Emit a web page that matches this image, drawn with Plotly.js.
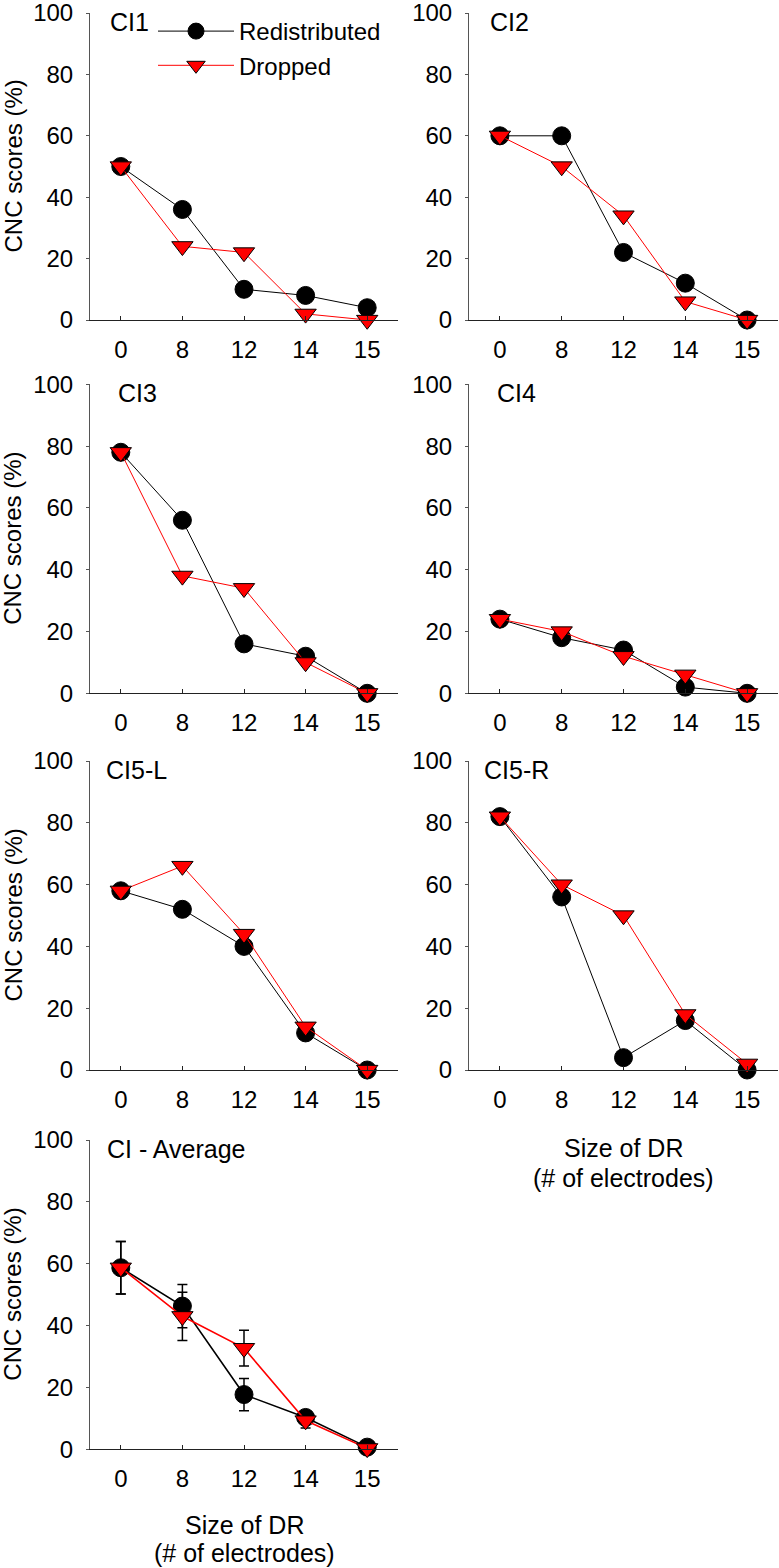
<!DOCTYPE html>
<html><head><meta charset="utf-8">
<script src="https://cdn.plot.ly/plotly-3.0.1.min.js"></script>
<style>html,body{margin:0;padding:0;background:#fff}</style>
</head><body><div id="chart" style="width:779px;height:1568px"></div>
<script>
// ---- data ----
const categories = ['0', '8', '12', '14', '15'];
const panelNames = ['CI1', 'CI2', 'CI3', 'CI4', 'CI5-L', 'CI5-R', 'CI - Average'];
const seriesNames = ['Redistributed', 'Dropped'];
const yTickVals = [0, 20, 40, 60, 80, 100];

const ci1Redistributed = [50, 36, 10, 8, 4];
const ci1Dropped       = [50, 24, 22, 2, 0];
const ci2Redistributed = [60, 60, 22, 12, 0];
const ci2Dropped       = [60, 50, 34, 6, 0];
const ci3Redistributed = [78, 56, 16, 12, 0];
const ci3Dropped       = [78, 38, 34, 10, 0];
const ci4Redistributed = [24, 18, 14, 2, 0];
const ci4Dropped       = [24, 20, 12, 6, 0];
const ci5LRedistributed = [58, 52, 40, 12, 0];
const ci5LDropped       = [58, 66, 44, 14, 0];
const ci5RRedistributed = [82, 56, 4, 16, 0];
const ci5RDropped       = [82, 60, 50, 18, 2];
const avgRedistributed    = [58.7, 46.3, 17.7, 10.3, 0.7];
const avgRedistributedErr = [8.5, 7.0, 5.2, 1.9, 0.7];
const avgDropped          = [58.7, 43.0, 32.7, 9.3, 0.3];
const avgDroppedErr       = [8.5, 7.8, 5.8, 2.4, 0.3];

const panelRedistributed = [ci1Redistributed, ci2Redistributed, ci3Redistributed, ci4Redistributed, ci5LRedistributed, ci5RRedistributed, avgRedistributed];
const panelDropped = [ci1Dropped, ci2Dropped, ci3Dropped, ci4Dropped, ci5LDropped, ci5RDropped, avgDropped];

// ---- layout geometry (pixels) ----
const W = 779, H = 1568, TOP = 10;
const cols = [[90, 398], [469, 778]];
const rows = [[13, 320], [384.3, 693.3], [761, 1070], [1140, 1449.3]];
const labelDx = [18, 19, 26, 26, 14, 13, 15];
const fx = px => px / W;
const fy = py => 1 - (py - TOP) / (H - TOP);
const FONT = '"Liberation Sans", Arial, Helvetica, sans-serif';

const traces = [];
const layout = {
  width: W, height: H,
  margin: {l: 0, r: 0, t: TOP, b: 0},
  paper_bgcolor: '#fff', plot_bgcolor: '#fff',
  font: {family: FONT, size: 24, color: '#000'},
  showlegend: true,
  legend: {
    x: fx(153), y: fy(9), xanchor: 'left', yanchor: 'top',
    bgcolor: 'rgba(0,0,0,0)', font: {family: FONT, size: 24, color: '#000'},
    itemwidth: 76, tracegroupgap: 0
  },
  annotations: []
};

panelNames.forEach((name, i) => {
  const c = i % 2, r = Math.floor(i / 2);
  const n = i + 1;
  const xa = 'x' + (n === 1 ? '' : n), ya = 'y' + (n === 1 ? '' : n);
  const isAvg = i === 6;
  const lw = isAvg ? 1.6 : 1;
  const redTrace = {
    type: 'scatter', mode: 'lines+markers', x: categories, y: panelRedistributed[i],
    xaxis: xa, yaxis: ya, name: seriesNames[0], showlegend: i === 0, cliponaxis: false,
    line: {color: '#000', width: lw},
    marker: {symbol: 'circle', size: 18, color: '#000', line: {color: '#000', width: 1}}
  };
  const dropTrace = {
    type: 'scatter', mode: 'lines+markers', x: categories, y: panelDropped[i],
    xaxis: xa, yaxis: ya, name: seriesNames[1], showlegend: i === 0, cliponaxis: false,
    line: {color: '#ff0000', width: lw},
    marker: {symbol: 'triangle-down', size: 18.5, color: '#ff0000', line: {color: '#000', width: 1}}
  };
  if (isAvg) {
    redTrace.error_y = {type: 'data', array: avgRedistributedErr, visible: true, color: '#000', thickness: 1.5, width: 5};
    dropTrace.error_y = {type: 'data', array: avgDroppedErr, visible: true, color: '#000', thickness: 1.5, width: 5};
  }
  traces.push(redTrace, dropTrace);

  const xKey = 'xaxis' + (n === 1 ? '' : n), yKey = 'yaxis' + (n === 1 ? '' : n);
  layout[xKey] = {
    domain: [fx(cols[c][0]), fx(cols[c][1])], anchor: ya,
    type: 'category', categoryorder: 'array', categoryarray: categories,
    range: [-0.5, 4.5], showgrid: false, zeroline: false,
    showline: true, linecolor: '#222', linewidth: 1,
    ticks: 'inside', ticklen: 4, tickcolor: '#222', tickwidth: 1,
    ticklabelstandoff: 8,
    tickfont: {family: FONT, size: 24, color: '#000'}, fixedrange: true
  };
  layout[yKey] = {
    domain: [fy(rows[r][1]), fy(rows[r][0])], anchor: xa,
    range: [0, 100], tickvals: yTickVals, showgrid: false, zeroline: false,
    showline: true, linecolor: '#555', linewidth: 1,
    ticks: 'outside', ticklen: 3, tickcolor: '#555', tickwidth: 1,
    ticklabelstandoff: 8, ticklabeloverflow: 'allow',
    tickfont: {family: FONT, size: 24, color: '#000'}, fixedrange: true
  };

  layout.annotations.push({
    xref: 'paper', yref: 'paper', x: fx(cols[c][0] + labelDx[i]), y: fy(rows[r][0] + 9),
    xanchor: 'left', yanchor: 'middle', showarrow: false, text: name,
    font: {family: FONT, size: 25, color: '#000'}
  });
  if (c === 0) {
    layout.annotations.push({
      xref: 'paper', yref: 'paper', x: fx(13), y: fy((rows[r][0] + rows[r][1]) / 2),
      xanchor: 'center', yanchor: 'middle', showarrow: false, textangle: -90,
      borderpad: 0,
      text: 'CNC scores (%)', font: {family: FONT, size: 24, color: '#000'}
    });
  }
});

// x-axis titles under CI5-R and CI - Average
const xTitleLines = ['Size of DR', '(# of electrodes)'];
[[623.5, 1148, 1178], [244, 1525, 1553]].forEach(p => {
  xTitleLines.forEach((t, k) => {
    layout.annotations.push({
      xref: 'paper', yref: 'paper', x: fx(p[0]), y: fy(p[1 + k]),
      xanchor: 'center', yanchor: 'middle', showarrow: false, text: t,
      font: {family: FONT, size: 25, color: '#000'}
    });
  });
});

Plotly.newPlot('chart', traces, layout, {displayModeBar: false, staticPlot: true});
</script>
</body></html>
